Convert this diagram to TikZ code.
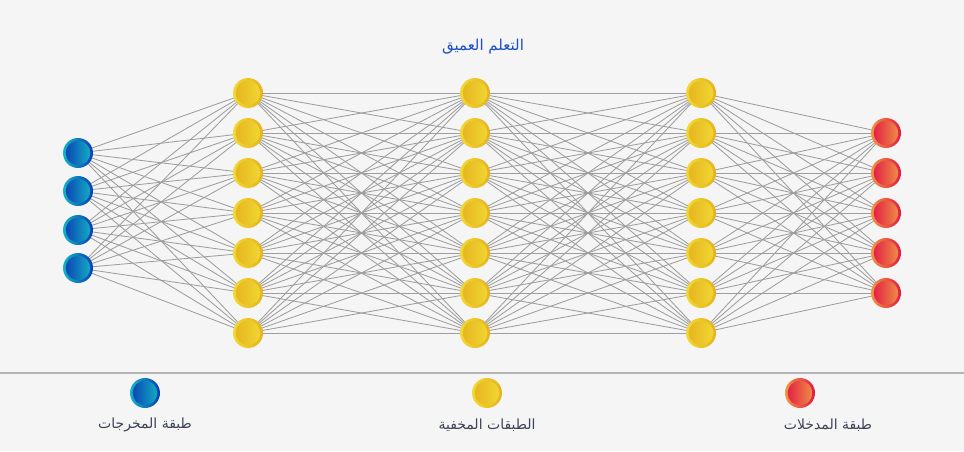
\documentclass[tikz,border=0pt]{standalone}
\usepackage{fontspec}
\TeXXeTstate=1
\newfontfamily\arabicfont[Script=Arabic]{DejaVu Sans}
\definecolor{bgcol}{HTML}{F5F5F5}
\definecolor{edgecol}{HTML}{9E9E9E}
\definecolor{sepcol}{HTML}{B4B4B4}
\definecolor{titlecol}{HTML}{1C4FC4}
\definecolor{labelcol}{HTML}{3C4356}
\definecolor{blueA}{HTML}{0A3DB5}
\definecolor{blueB}{HTML}{14B5C3}
\definecolor{yelA}{HTML}{E6B21E}
\definecolor{yelB}{HTML}{F1DA34}
\definecolor{redA}{HTML}{E31745}
\definecolor{redB}{HTML}{EF9744}
\pgfdeclarelayer{bg}
\pgfdeclarelayer{edges}
\pgfsetlayers{bg,edges,main}

\begin{document}
\begin{tikzpicture}[x=1pt,y=-1pt,
	neuron/.style 2 args={circle,minimum size=30pt,inner sep=0pt,
		left color=#2,right color=#1,
		path picture={\shade[left color=#1,right color=#2]
			(path picture bounding box.center) circle (12.3pt);}},
	outnode/.style={neuron={blueA}{blueB}},
	hidnode/.style={neuron={yelA}{yelB}},
	innode/.style={neuron={redA}{redB}},
	link/.style={edgecol,line width=0.85pt},
	layerlabel/.style={labelcol,font=\arabicfont\fontsize{14}{16}\selectfont}]
	
	% Background
	\begin{pgfonlayer}{bg}
		\fill[bgcol] (0,0) rectangle (964,451);
	\end{pgfonlayer}
	\useasboundingbox (0,0) rectangle (964,451);
	
	% Title
	\node[titlecol,font=\arabicfont\fontsize{15}{17}\selectfont] (title) at (483,47) {\beginR التعلم العميق\endR};
	
	% Output layer (left)
	\foreach \i/\y in {1/153,2/191,3/230,4/268}
	\node[outnode] (o\i) at (78,\y) {};
	
	% Hidden layers
	\foreach \l/\x in {1/248,2/475,3/701}
	\foreach \i in {1,...,7}
	\node[hidnode] (h\l\i) at (\x,{53+40*\i}) {};
	
	% Input layer (right)
	\foreach \i in {1,...,5}
	\node[innode] (in\i) at (886,{93+40*\i}) {};
	
	% Connections
	\begin{pgfonlayer}{edges}
		\foreach \a in {1,...,4}
		\foreach \b in {1,...,7}
		\draw[link] (o\a.center) -- (h1\b.center);
		\foreach \a in {1,...,7}
		\foreach \b in {1,...,7}
		{\draw[link] (h1\a.center) -- (h2\b.center);
			\draw[link] (h2\a.center) -- (h3\b.center);}
		\foreach \a in {1,...,7}
		\foreach \b in {1,...,5}
		\draw[link] (h3\a.center) -- (in\b.center);
	\end{pgfonlayer}
	
	% Separator
	\coordinate (sepL) at (0,373);
	\coordinate (sepR) at (964,373);
	\draw[sepcol,line width=1.2pt] (sepL) -- (sepR);
	
	% Legend
	\node[outnode] (legout) at (145,393) {};
	\node[layerlabel] (labout) at (145,425) {\beginR طبقة المخرجات\endR};
	\node[hidnode] (leghid) at (487,393) {};
	\node[layerlabel] (labhid) at (487,425) {\beginR الطبقات المخفية\endR};
	\node[innode] (legin) at (800,393) {};
	\node[layerlabel] (labin) at (828,425) {\beginR طبقة المدخلات\endR};
	
\end{tikzpicture}
\end{document}
